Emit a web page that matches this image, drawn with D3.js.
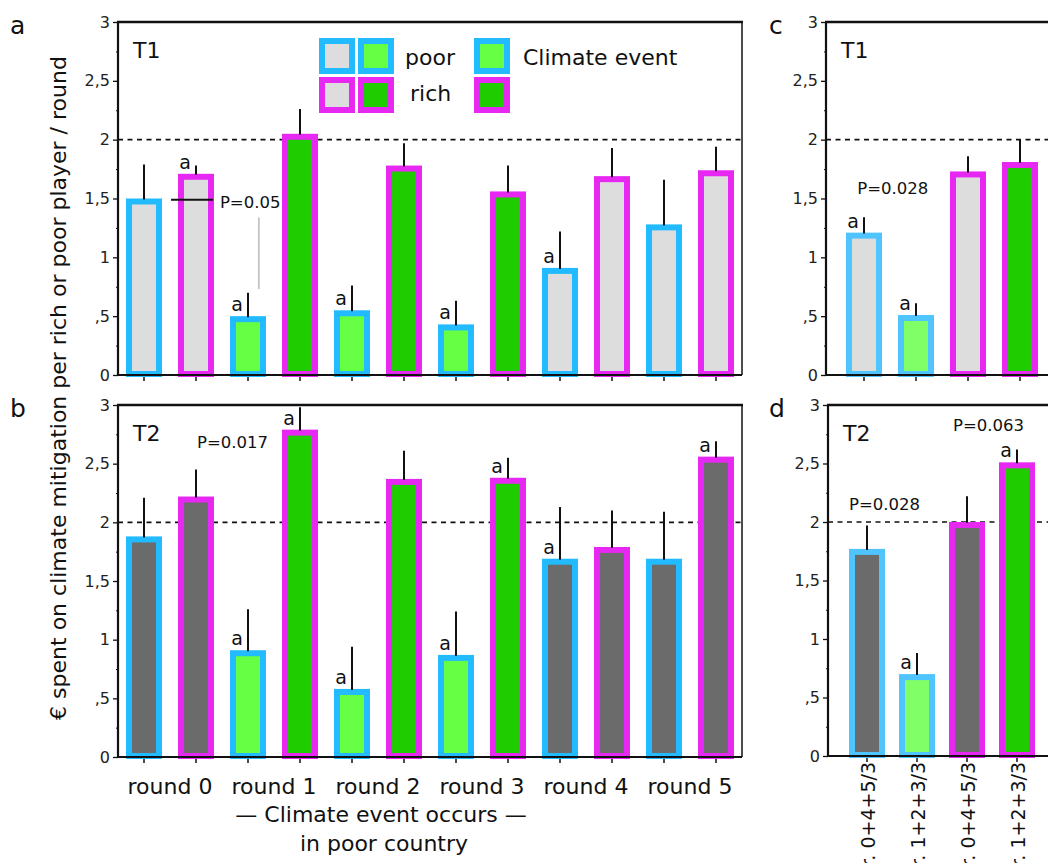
<!DOCTYPE html>
<html>
<head>
<meta charset="utf-8">
<script src="https://cdn.jsdelivr.net/npm/d3@7"></script>
<style>
  body { margin: 0; background: #fff; }
  text { font-family: "DejaVu Sans", sans-serif; fill: #111; }
</style>
</head>
<body>
<div id="chart"></div>
<script>
// Data: mean spent per player and standard error (error bar length)
var rounds = ['round 0', 'round 1', 'round 2', 'round 3', 'round 4', 'round 5']
var climateRound = [false, true, true, true, false, false]

var t1Poor   = [1.50, 0.50, 0.55, 0.43, 0.91, 1.28]
var t1PoorSe = [0.29, 0.20, 0.21, 0.20, 0.31, 0.38]
var t1PoorA  = [false, true, true, true, true, false]
var t1Rich   = [1.71, 2.05, 1.78, 1.56, 1.69, 1.74]
var t1RichSe = [0.07, 0.21, 0.19, 0.22, 0.24, 0.20]
var t1RichA  = [true, false, false, false, false, false]

var t2Poor   = [1.88, 0.91, 0.58, 0.87, 1.69, 1.69]
var t2PoorSe = [0.33, 0.35, 0.36, 0.37, 0.44, 0.40]
var t2PoorA  = [false, true, true, true, true, false]
var t2Rich   = [2.22, 2.79, 2.37, 2.38, 1.79, 2.56]
var t2RichSe = [0.23, 0.19, 0.24, 0.17, 0.31, 0.13]
var t2RichA  = [false, true, false, true, false, true]

// pooled rounds (panels c, d)
var pooled        = ['r. 0+4+5/3', 'r. 1+2+3/3', 'r. 0+4+5/3', 'r. 1+2+3/3']
var pooledPlayer  = ['poor', 'poor', 'rich', 'rich']
var pooledClimate = [false, true, false, true]
var t1Pooled   = [1.21, 0.51, 1.73, 1.81]
var t1PooledSe = [0.13, 0.10, 0.13, 0.19]
var t1PooledA  = [true, true, false, false]
var t2Pooled   = [1.77, 0.70, 2.00, 2.51]
var t2PooledSe = [0.20, 0.18, 0.22, 0.11]
var t2PooledA  = [false, true, false, true]

var yTicks = [0, 0.5, 1, 1.5, 2, 2.5, 3]
var yMinor = [0.25, 0.75, 1.25, 1.75, 2.25, 2.75]
var target = 2

var svg = d3.select('#chart').append('svg')
  .attr('width', 1048)
  .attr('height', 863)

var colors = {
  poor: '#22bbff', rich: '#e628f2',
  poorLight: '#4fc4ff',
  grey1: '#dddddd', grey2: '#6b6b6b',
  green: '#66ff44', greenLight: '#80ff66', darkGreen: '#1ecc00'
}

function fmt(d) {
  if (d === 0) return '0'
  return String(d).replace(/^0\./, ',').replace('.', ',')
}

function buildRounds(poor, poorSe, poorA, rich, richSe, richA) {
  var bars = []
  rounds.forEach(function(r, i) {
    bars.push({player: 'poor', climate: climateRound[i], value: poor[i], se: poorSe[i], a: poorA[i]})
    bars.push({player: 'rich', climate: climateRound[i], value: rich[i], se: richSe[i], a: richA[i]})
  })
  return bars
}

function buildPooled(vals, se, a) {
  return vals.map(function(v, i) {
    return {player: pooledPlayer[i], climate: pooledClimate[i], value: v, se: se[i], a: a[i]}
  })
}

function drawPanel(p) {
  var g = svg.append('g')
  var y = d3.scaleLinear().domain([0, 3]).range([p.bottom, p.top])
  var x = d3.scaleBand()
    .domain(d3.range(p.bars.length))
    .range(p.xRange)
    .paddingInner(0.42)
    .paddingOuter(0.21)
  var cx = function(i) { return x(0) + x.bandwidth() / 2 + i * x.step() }
  p.x = x; p.y = y; p.cx = cx

  // dashed target line
  g.append('line')
    .attr('x1', p.left).attr('x2', p.right)
    .attr('y1', y(target)).attr('y2', y(target))
    .style('stroke', '#111').style('stroke-width', 1.6)
    .style('stroke-dasharray', '5,4.5')

  // y axis, major + minor ticks
  var ya = g.append('g')
    .attr('transform', 'translate(' + p.left + ',0)')
    .call(d3.axisLeft(y).tickValues(yTicks).tickSize(5).tickPadding(3).tickFormat(fmt))
  ya.select('.domain').remove()
  ya.selectAll('line').style('stroke', '#111').style('stroke-width', 1.3)
  ya.selectAll('text').style('font-size', '16px').style('font-family', '"DejaVu Sans", sans-serif').style('fill', '#222')
  var ym = g.append('g')
    .attr('transform', 'translate(' + p.left + ',0)')
    .call(d3.axisLeft(y).tickValues(yMinor).tickSize(2).tickFormat(''))
  ym.select('.domain').remove()
  ym.selectAll('line').style('stroke', '#111')

  // x ticks
  var xa = g.append('g')
    .attr('transform', 'translate(0,' + p.bottom + ')')
    .call(d3.axisBottom(x).tickSize(6).tickFormat(p.tickLabels ? function(d) { return p.tickLabels[d] } : ''))
  xa.select('.domain').remove()
  xa.selectAll('line').style('stroke', '#111').style('stroke-width', 1.5)
  if (p.tickLabels) {
    xa.selectAll('text')
      .attr('x', 0).attr('y', 0).attr('dy', 0)
      .attr('transform', 'translate(8,6) rotate(-90)')
      .style('text-anchor', 'end')
      .style('font-size', '19px')
      .style('font-family', '"DejaVu Sans", sans-serif')
      .style('fill', '#111')
  }

  // bars
  var bar = g.selectAll('.bar')
    .data(p.bars)
    .enter().append('g')
      .attr('class', 'bar')

  bar.append('rect')
    .attr('x', function(d, i) { return cx(i) - 15 })
    .attr('width', 30)
    .attr('y', function(d) { return y(d.value) + 3 })
    .attr('height', function(d) { return y(0) - 1 - y(d.value) - 3 })
    .style('fill', function(d) {
      if (!d.climate) return p.grey
      return d.player == 'poor' ? p.green : colors.darkGreen
    })
    .style('stroke', function(d) { return d.player == 'poor' ? p.poorStroke : colors.rich })
    .style('stroke-width', 6)

  bar.append('line')
    .attr('x1', function(d, i) { return cx(i) }).attr('x2', function(d, i) { return cx(i) })
    .attr('y1', function(d) { return y(d.value) + 1 })
    .attr('y2', function(d) { return y(d.value + d.se) })
    .style('stroke', '#111').style('stroke-width', 2)

  bar.filter(function(d) { return d.a })
    .append('text')
      .attr('x', function(d) { return cx(p.bars.indexOf(d)) - 5 })
      .attr('y', function(d) { return y(d.value) - 5 })
      .style('text-anchor', 'end')
      .style('font-size', '19px')
      .text('a')

  // frame
  var frame = [
    [p.left, p.top, p.left, p.bottom + 1, 2.2],
    [p.left - 1, p.bottom, p.right, p.bottom, 2.2],
    [p.left - 1, p.top, p.right + 1, p.top, 2.5]
  ]
  if (p.rightBorder) frame.push([p.right, p.top, p.right, p.bottom, 1.5])
  frame.forEach(function(f) {
    g.append('line')
      .attr('x1', f[0]).attr('y1', f[1]).attr('x2', f[2]).attr('y2', f[3])
      .style('stroke', '#111').style('stroke-width', f[4])
  })

  // labels
  g.append('text')
    .attr('x', p.letterX).attr('y', p.top + 3).attr('dy', '0.35em')
    .style('font-size', '25px')
    .text(p.letter)
  g.append('text')
    .attr('x', p.left + 15).attr('y', y(2.76)).attr('dy', '0.36em')
    .style('font-size', '22px')
    .text(p.label)

  ;(p.pvalues || []).forEach(function(pv) {
    g.append('text')
      .attr('x', cx(pv.at)).attr('y', y(pv.value)).attr('dy', '0.36em')
      .style('font-size', '16.5px')
      .text(pv.text)
  })
  return p
}

// a: T1 by round
var pa = drawPanel({
  letter: 'a', letterX: 10, label: 'T1',
  left: 118, right: 742, top: 22, bottom: 375, xRange: [118, 742], rightBorder: true,
  bars: buildRounds(t1Poor, t1PoorSe, t1PoorA, t1Rich, t1RichSe, t1RichA),
  grey: colors.grey1, green: colors.green, poorStroke: colors.poor,
  pvalues: [{text: 'P=0.05', at: 1.46, value: 1.47}]
})
// P=0.05 connector
svg.append('line')
  .attr('x1', pa.cx(0.52)).attr('x2', pa.cx(1.33))
  .attr('y1', pa.y(1.49)).attr('y2', pa.y(1.49))
  .style('stroke', '#111').style('stroke-width', 2)
svg.append('line')
  .attr('x1', pa.cx(2.21)).attr('x2', pa.cx(2.21))
  .attr('y1', pa.y(1.34)).attr('y2', pa.y(0.73))
  .style('stroke', '#999').style('stroke-width', 1)

// b: T2 by round
var pb = drawPanel({
  letter: 'b', letterX: 10, label: 'T2',
  left: 118, right: 742, top: 405, bottom: 757, xRange: [118, 742], rightBorder: true,
  bars: buildRounds(t2Poor, t2PoorSe, t2PoorA, t2Rich, t2RichSe, t2RichA),
  grey: colors.grey2, green: colors.green, poorStroke: colors.poor,
  pvalues: [{text: 'P=0.017', at: 1.02, value: 2.68}]
})

// c: T1 pooled
drawPanel({
  letter: 'c', letterX: 769, label: 'T1',
  left: 826, right: 1050, top: 22, bottom: 375, xRange: [838, 1046], rightBorder: false,
  bars: buildPooled(t1Pooled, t1PooledSe, t1PooledA),
  grey: colors.grey1, green: colors.greenLight, poorStroke: colors.poorLight,
  pvalues: [{text: 'P=0.028', at: -0.13, value: 1.59}]
})

// d: T2 pooled
drawPanel({
  letter: 'd', letterX: 769, label: 'T2',
  left: 828, right: 1050, top: 405, bottom: 756, xRange: [842, 1042], rightBorder: false,
  bars: buildPooled(t2Pooled, t2PooledSe, t2PooledA),
  grey: colors.grey2, green: colors.greenLight, poorStroke: colors.poorLight,
  tickLabels: pooled,
  pvalues: [{text: 'P=0.028', at: -0.36, value: 2.15}, {text: 'P=0.063', at: 1.72, value: 2.83}]
})

// legend in panel a
var legendItems = [
  {col: 0, row: 0, player: 'poor', fill: colors.grey1},
  {col: 1, row: 0, player: 'poor', fill: colors.green},
  {col: 0, row: 1, player: 'rich', fill: colors.grey1},
  {col: 1, row: 1, player: 'rich', fill: colors.darkGreen},
  {col: 2, row: 0, player: 'poor', fill: colors.green},
  {col: 2, row: 1, player: 'rich', fill: colors.darkGreen}
]
var legendCols = [319, 358, 474]
var legendRows = [38, 77]
var legend = svg.append('g')
legend.selectAll('rect')
  .data(legendItems)
  .enter().append('rect')
    .attr('x', function(d) { return legendCols[d.col] + 3 })
    .attr('y', function(d) { return legendRows[d.row] + 3 })
    .attr('width', 30).attr('height', 30)
    .style('fill', function(d) { return d.fill })
    .style('stroke', function(d) { return d.player == 'poor' ? colors.poor : colors.rich })
    .style('stroke-width', 6)
legend.append('text').attr('x', 405).attr('y', 57).attr('dy', '0.35em').style('font-size', '22px').text('poor')
legend.append('text').attr('x', 410).attr('y', 93).attr('dy', '0.35em').style('font-size', '22px').text('rich')
legend.append('text').attr('x', 523).attr('y', 57).attr('dy', '0.35em').style('font-size', '22px').text('Climate event')

// round labels under panel b
svg.selectAll('.round-label')
  .data(rounds)
  .enter().append('text')
    .attr('class', 'round-label')
    .attr('x', function(d, i) { return (pb.cx(2 * i) + pb.cx(2 * i + 1)) / 2 })
    .attr('y', 786).attr('dy', '0.35em')
    .style('text-anchor', 'middle')
    .style('font-size', '22px')
    .text(function(d) { return d })

svg.append('text')
  .attr('x', 381).attr('y', 814).attr('dy', '0.35em')
  .style('text-anchor', 'middle').style('font-size', '22px')
  .text('\u2014 Climate event occurs \u2014')
svg.append('text')
  .attr('x', 384).attr('y', 843).attr('dy', '0.35em')
  .style('text-anchor', 'middle').style('font-size', '22px')
  .text('in poor country')

// shared y title
svg.append('text')
  .attr('transform', 'translate(58,388) rotate(-90)')
  .attr('dy', '0.35em')
  .style('text-anchor', 'middle')
  .style('font-size', '22px')
  .text('\u20ac spent on climate mitigation per rich or poor player / round')
</script>
</body>
</html>
